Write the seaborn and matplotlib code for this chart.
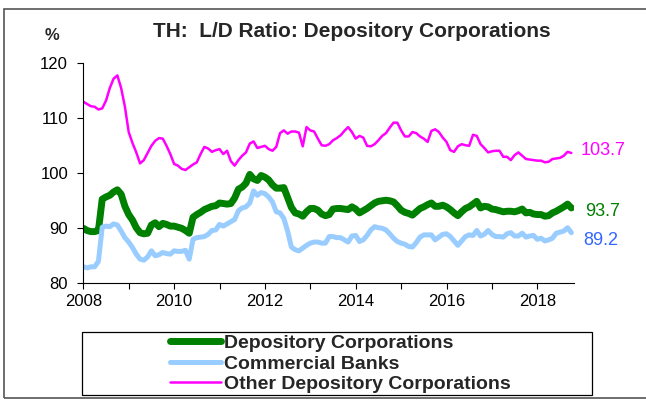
"""TH: loan-to-deposit ratio of depository corporations."""

import matplotlib
matplotlib.use("Agg")
import matplotlib.pyplot as plt
from matplotlib.patches import Rectangle
from matplotlib.ticker import MultipleLocator
import numpy as np
import pandas as pd
import seaborn as sns


START_YEAR = 2008
SERIES_NAMES = ["Depository Corporations", "Commercial Banks", "Other Depository Corporations"]

# monthly values, Jan 2008 - Oct 2018 (%)
depository = [
    90.0, 89.6, 89.4, 89.4, 89.6, 95.3, 95.7, 96.0, 96.6, 97.0,
    96.2, 94.0, 92.5, 91.5, 90.1, 89.2, 89.0, 89.1, 90.6, 91.0,
    90.3, 90.9, 90.7, 90.4, 90.4, 90.2, 90.0, 89.6, 89.1, 92.0,
    92.5, 92.9, 93.4, 93.7, 94.0, 94.1, 94.6, 94.5, 94.4, 94.5,
    95.5, 97.1, 97.5, 98.2, 99.8, 99.0, 98.7, 99.6, 99.3, 98.8,
    97.9, 97.3, 97.3, 97.4, 95.6, 93.8, 92.8, 92.6, 92.2, 93.0,
    93.6, 93.6, 93.3, 92.6, 92.3, 92.5, 93.5, 93.6, 93.6, 93.5,
    93.4, 93.9, 93.5, 92.8, 93.2, 93.6, 94.1, 94.6, 94.9, 95.0,
    95.1, 95.0, 94.8, 94.1, 93.3, 92.9, 92.7, 92.4, 93.0, 93.6,
    93.9, 94.3, 94.6, 94.0, 94.0, 94.2, 93.9, 93.4, 92.8, 92.3,
    93.0, 93.6, 93.9, 94.4, 94.9, 93.7, 94.0, 93.9, 93.5, 93.4,
    93.2, 93.0, 93.1, 93.1, 93.0, 93.2, 93.5, 92.8, 92.9, 92.6,
    92.5, 92.5, 92.2, 92.3, 92.8, 93.1, 93.5, 93.9, 94.4, 93.7,
]
commercial = [
    83.0, 82.8, 83.0, 83.0, 84.0, 90.2, 90.4, 90.3, 90.8, 90.6,
    89.5, 88.3, 87.5, 86.5, 85.3, 84.4, 84.2, 84.8, 85.9, 85.0,
    85.2, 85.6, 85.4, 85.3, 85.9, 85.8, 85.8, 86.0, 84.4, 88.0,
    88.3, 88.4, 88.5, 88.9, 89.6, 89.7, 90.7, 90.4, 90.8, 91.2,
    91.6, 93.2, 93.7, 93.9, 94.6, 96.8, 96.0, 96.5, 96.3, 95.7,
    94.8, 93.0, 92.8, 91.8, 89.5, 86.6, 86.1, 85.9, 86.4, 86.9,
    87.3, 87.5, 87.5, 87.3, 87.3, 88.5, 88.5, 88.3, 88.3, 87.9,
    87.5, 88.6, 88.7, 87.6, 87.9, 88.7, 89.7, 90.3, 90.1, 90.0,
    89.7, 89.0, 88.2, 87.6, 87.3, 87.1, 86.7, 86.6, 87.4, 88.4,
    88.8, 88.8, 88.8, 87.9, 88.4, 88.9, 89.0, 88.5, 87.7, 86.9,
    87.7, 88.5, 88.8, 88.7, 89.6, 88.6, 88.9, 89.6, 88.9, 88.5,
    88.5, 88.4, 89.0, 89.2, 88.6, 88.6, 89.1, 88.4, 88.6, 88.7,
    88.0, 88.2, 87.7, 87.9, 88.2, 89.1, 89.3, 89.5, 90.1, 89.2,
]
other = [
    113.0, 112.6, 112.2, 112.1, 111.6, 111.8, 113.2, 115.5, 117.2, 117.8,
    115.5, 112.1, 107.5, 105.5, 103.8, 101.8, 102.4, 103.7, 105.0, 105.9,
    106.4, 106.3, 105.0, 103.5, 101.7, 101.4, 100.8, 100.6, 101.1, 101.6,
    102.0, 103.5, 104.8, 104.5, 103.9, 104.2, 104.4, 103.5, 104.1, 102.2,
    101.4, 102.4, 103.2, 103.8, 105.4, 105.8, 104.6, 104.8, 105.0, 104.4,
    104.1, 104.8, 107.3, 107.8, 107.2, 107.6, 107.6, 107.4, 104.9, 108.4,
    107.8, 107.6, 106.3, 105.1, 105.0, 105.3, 106.0, 106.4, 106.9, 107.7,
    108.4, 107.5, 106.3, 106.8, 106.5, 105.0, 104.9, 105.3, 106.0, 106.8,
    107.3, 108.3, 109.2, 109.2, 107.8, 106.7, 106.7, 107.5, 107.3, 106.7,
    106.3, 105.7, 107.7, 108.0, 107.5, 106.5, 105.7, 104.2, 103.9, 104.9,
    105.3, 105.1, 105.0, 107.0, 106.8, 105.3, 104.6, 103.8, 104.0, 104.1,
    104.1, 103.0, 103.0, 102.4, 103.3, 103.8, 103.2, 102.6, 102.5, 102.4,
    102.3, 102.3, 102.0, 102.1, 102.6, 102.7, 102.8, 103.2, 103.9, 103.7,
]

COLORS = ["#008000", "#99CCFF", "#FF00FF"]
LABEL_COLORS = ["#008000", "#3366FF", "#FF00FF"]
WIDTHS = [5.0, 3.6, 1.8]
END_OFFSETS = [(10, -2.5), (8.5, -5.5), (6.5, 2)]


def main() -> None:
    sns.set_style("ticks")
    plt.rcParams["font.family"] = ["Liberation Sans", "DejaVu Sans"]

    n = len(depository)
    x = START_YEAR + np.arange(n) / 12
    df = pd.DataFrame({"x": x, SERIES_NAMES[0]: depository,
                       SERIES_NAMES[1]: commercial, SERIES_NAMES[2]: other})

    fig = plt.figure(figsize=(6.46, 4.03), dpi=100)
    ax = fig.add_axes([83.3 / 646, 1 - 283.3 / 403, 491 / 646, 220 / 403])

    handles = []
    for name, col, lw, lcol, off in zip(SERIES_NAMES, COLORS, WIDTHS, LABEL_COLORS, END_OFFSETS):
        sns.lineplot(data=df, x="x", y=name, color=col, linewidth=lw, ax=ax,
                     solid_capstyle="round", solid_joinstyle="round")
        handles.append(ax.lines[-1])
        last = df[name].iloc[-1]
        ax.annotate(f"{last:.1f}", (df["x"].iloc[-1], last), xytext=off,
                    textcoords="offset points", color=lcol, fontsize=13,
                    va="center", ha="left", annotation_clip=False)

    ax.set_xlim(2008, 2008 + 491 / 45.4)
    ax.set_ylim(80, 120)
    ax.xaxis.set_major_locator(MultipleLocator(2))
    ax.xaxis.set_minor_locator(MultipleLocator(1))
    ax.yaxis.set_major_locator(MultipleLocator(10))
    ax.tick_params(axis="both", which="both", direction="out", length=4, width=0.8,
                   colors="black", labelsize=12)
    ax.tick_params(axis="y", pad=7)
    ax.tick_params(axis="x", pad=4)
    ax.set_xlabel("")
    ax.set_ylabel("")
    for side in ["top", "right"]:
        ax.spines[side].set_visible(False)
    for side in ["left", "bottom"]:
        ax.spines[side].set_color("black")
        ax.spines[side].set_linewidth(0.8)

    fig.text(352 / 646, 1 - 31.5 / 403, "TH:  L/D Ratio: Depository Corporations",
             ha="center", va="center", fontsize=15, fontweight="bold")
    fig.text(52 / 646, 1 - 35 / 403, "%", ha="center", va="center",
             fontsize=12, fontweight="bold")

    # outer frame and legend box
    fig.patches.append(Rectangle((4 / 646, 1 - 398 / 403), 700 / 646, 389 / 403,
                                 transform=fig.transFigure, fill=False,
                                 edgecolor="#555555", linewidth=1.2))
    fig.patches.append(Rectangle((81.7 / 646, 1 - 394.7 / 403), 510.6 / 646, 62.4 / 403,
                                 transform=fig.transFigure, fill=False,
                                 edgecolor="black", linewidth=0.9))

    fig.legend(handles, SERIES_NAMES, loc="upper left",
               bbox_to_anchor=(170 / 646, 1 - 334.5 / 403), bbox_transform=fig.transFigure,
               frameon=False, borderpad=0, borderaxespad=0, handlelength=2.6,
               handletextpad=0.2, labelspacing=0.15,
               prop={"weight": "bold", "size": 14})
    if ax.get_legend() is not None:
        ax.get_legend().remove()

    fig.savefig("out.png", dpi=100)
    plt.close(fig)


if __name__ == "__main__":
    main()
